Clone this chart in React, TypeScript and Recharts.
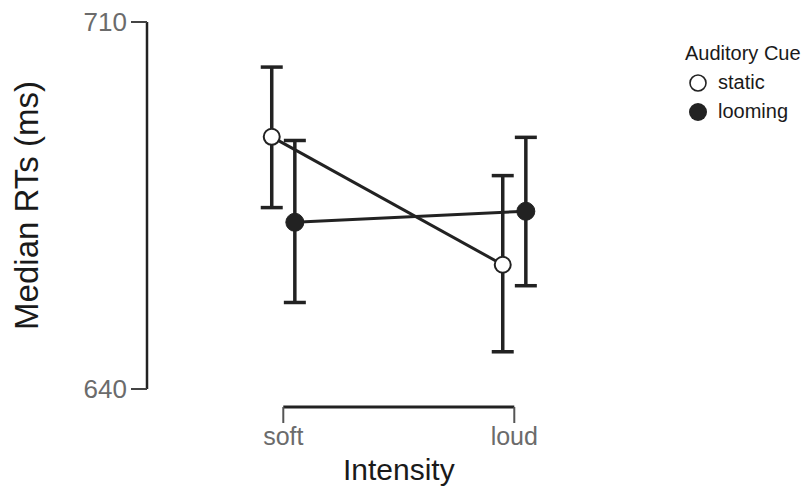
import React from 'react';
import { ScatterChart, Scatter, XAxis, YAxis, ErrorBar, ReferenceLine, Legend } from 'recharts';

const intensities = ['soft', 'loud'];
const cueNames = ['static', 'looming'];
const staticRT = [688.1, 663.7];
const staticLow = [674.6, 647.1];
const staticHigh = [701.4, 680.7];
const loomingRT = [671.8, 673.9];
const loomingLow = [656.5, 659.7];
const loomingHigh = [687.4, 688.0];
const yTicks = [640, 710];
const xTicks = [1, 2];

const FONT = '"Liberation Sans", Arial, Helvetica, sans-serif';
const INK = '#222222';
const GREY = '#6b6b6b';
const DODGE = 0.05;

const build = (rt: number[], lo: number[], hi: number[], shift: number) =>
  rt.map((v, i) => ({
    x: i + 1 + shift,
    rt: v,
    err: [v - lo[i], hi[i] - v],
    intensity: intensities[i],
  }));

const staticData = build(staticRT, staticLow, staticHigh, -DODGE);
const loomingData = build(loomingRT, loomingLow, loomingHigh, DODGE);

// value just below the y-domain where the offset x-axis line sits
const X_LINE_VALUE = 640 - (18 * 70) / 367;

const renderXTick = (props: any) => {
  const { x, y, payload } = props;
  const label = intensities[Math.round(payload.value) - 1];
  return (
    <g>
      <line x1={x} x2={x} y1={y + 18} y2={y + 34} stroke="#555" strokeWidth={2} />
      <text x={x} y={y + 56} textAnchor="middle" fontSize={25} fill={GREY} fontFamily={FONT}>
        {label}
      </text>
    </g>
  );
};

const renderYLabel = (props: any) => {
  const vb = props && props.viewBox ? props.viewBox : { x: 0, y: 22, width: 147, height: 367 };
  const cx = vb.x + 38;
  const cy = vb.y + vb.height / 2;
  return (
    <text
      x={cx}
      y={cy}
      transform={`rotate(-90, ${cx}, ${cy})`}
      textAnchor="middle"
      fontSize={33}
      fill="#1a1a1a"
      fontFamily={FONT}
    >
      Median RTs (ms)
    </text>
  );
};

const renderXLabel = (props: any) => {
  const vb = props && props.viewBox ? props.viewBox : { x: 283, y: 407, width: 231, height: 0 };
  const cx = vb.x + vb.width / 2;
  return (
    <text x={cx} y={vb.y + 73} textAnchor="middle" fontSize={30} fill="#1a1a1a" fontFamily={FONT}>
      Intensity
    </text>
  );
};

const openDot = (props: any) => (
  <circle cx={props.cx} cy={props.cy} r={8} fill="#ffffff" stroke={INK} strokeWidth={2} />
);
const filledDot = (props: any) => (
  <circle cx={props.cx} cy={props.cy} r={9} fill={INK} stroke={INK} strokeWidth={1} />
);

const renderLegend = () => (
  <div style={{ fontFamily: FONT, color: '#1a1a1a', fontSize: 20, lineHeight: '29px' }}>
    <div>Auditory Cue</div>
    {cueNames.map((name, i) => (
      <div key={name} style={{ display: 'flex', alignItems: 'center', marginLeft: 3 }}>
        <svg width={20} height={20} style={{ marginRight: 10 }}>
          {i === 0 ? (
            <circle cx={10} cy={10} r={8} fill="#fff" stroke={INK} strokeWidth={1.6} />
          ) : (
            <circle cx={10} cy={10} r={9} fill={INK} />
          )}
        </svg>
        <span>{name}</span>
      </div>
    ))}
  </div>
);

export default function App() {
  return (
    <div style={{ position: 'absolute', left: 0, top: 0, width: 805, height: 486, background: '#fff' }}>
      <ScatterChart
        width={805}
        height={486}
        margin={{ top: 22, right: 196, bottom: 0, left: 0 }}
        style={{ fontFamily: FONT }}
      >
        <XAxis
          type="number"
          dataKey="x"
          domain={[0.41, 2.41]}
          ticks={xTicks}
          interval={0}
          height={97}
          axisLine={false}
          tickLine={false}
          tickSize={0}
          tickMargin={0}
          tick={renderXTick}
        />
        <YAxis
          type="number"
          dataKey="rt"
          domain={[640, 710]}
          ticks={yTicks}
          interval={0}
          width={147}
          tickSize={16}
          tickMargin={4}
          axisLine={{ stroke: INK, strokeWidth: 2.5 }}
          tickLine={{ stroke: '#444', strokeWidth: 2 }}
          tick={{ fill: GREY, fontSize: 26, fontFamily: FONT }}
          label={renderYLabel}
        />
        <ReferenceLine
          segment={[
            { x: xTicks[0], y: X_LINE_VALUE },
            { x: xTicks[1], y: X_LINE_VALUE },
          ]}
          stroke={INK}
          strokeWidth={3}
          ifOverflow="visible"
          label={renderXLabel}
        />
        <Legend
          layout="horizontal"
          align="center"
          verticalAlign="middle"
          content={renderLegend}
          wrapperStyle={{ top: 39, left: 685, width: 130, height: 'auto' }}
        />
        <Scatter
          name="static"
          data={staticData}
          line={{ stroke: INK, strokeWidth: 3 }}
          shape={openDot}
          isAnimationActive={false}
        >
          <ErrorBar dataKey="err" direction="y" width={11} stroke={INK} strokeWidth={3.5} isAnimationActive={false} />
        </Scatter>
        <Scatter
          name="looming"
          data={loomingData}
          line={{ stroke: INK, strokeWidth: 3 }}
          shape={filledDot}
          isAnimationActive={false}
        >
          <ErrorBar dataKey="err" direction="y" width={11} stroke={INK} strokeWidth={3.5} isAnimationActive={false} />
        </Scatter>
      </ScatterChart>
    </div>
  );
}
